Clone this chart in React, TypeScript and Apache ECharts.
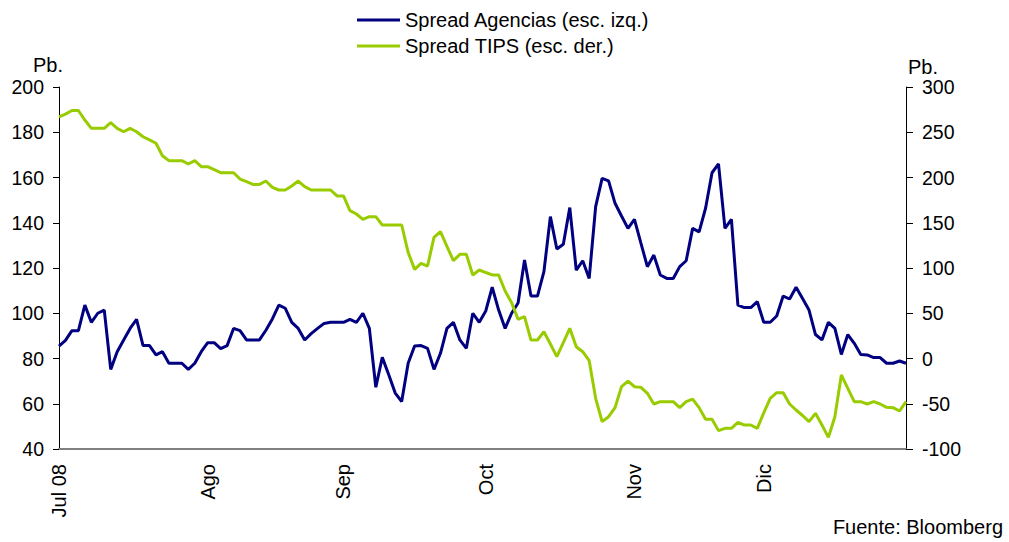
import React, { useEffect, useRef } from "react";
import * as echarts from "echarts";

const monthLabels = ["Jul 08", "Ago", "Sep", "Oct", "Nov", "Dic"];
const monthStarts = [0, 23, 44, 66, 89, 109];
const dayCount = 132;

const agencias = [
  85.5, 88, 92.3, 92.3, 103.6, 96, 100, 101.4, 75.2, 83,
  88.2, 93.3, 97.3, 85.7, 85.7, 81.6, 83, 77.9, 77.9, 77.9,
  75.2, 77.9, 83, 87, 87, 84.4, 85.7, 93.3, 92.3, 88.2,
  88.2, 88.2, 92.5, 97.5, 103.6, 102.2, 96, 93.3, 88.2, 91,
  93.3, 95.5, 96, 96, 96, 97.3, 96, 100, 93.3, 67.3,
  80.5, 72.8, 64.7, 61, 77.9, 85.5, 85.7, 84.5, 75.2, 82.3,
  93.3, 96, 88.2, 84.5, 100, 96, 101, 111.5, 101.4, 93.3,
  100, 104.5, 123.5, 107.6, 107.6, 118.4, 142.7, 128.4, 130.5, 146.7,
  119.1, 123.2, 115.4, 147.1, 159.6, 158.5, 148.6, 143, 137.5, 141.5,
  131, 120.6, 125.7, 116.9, 115.4, 115.4, 120.6, 123.2, 137.5, 136,
  146.4, 162.1, 166, 137.5, 141.5, 103.6, 102.5, 102.5, 105.1, 96,
  96, 98.8, 107.6, 106.3, 111.5, 106.5, 101.4, 90.6, 88.2, 96,
  93.3, 81.8, 90.6, 86.7, 81.8, 81.6, 80.4, 80.4, 77.9, 77.9,
  78.9, 77.9,
];

const tips = [
  267, 270, 274, 274, 263.5, 254.3, 254.3, 254.3, 260.6, 254.3,
  250.6, 254.3, 250.6, 245, 241.5, 237.8, 224, 218.6, 218.6, 218.6,
  214.9, 218.6, 212, 212, 208.6, 205.3, 205.3, 205.3, 198.3, 195.4,
  192.4, 192.4, 196.1, 189.1, 186.2, 186.2, 190.6, 196.1, 189.9, 186.2,
  186.2, 186.2, 186.2, 179.6, 179.6, 163.4, 159.7, 153.8, 156.7, 156.7,
  147.5, 147.5, 147.5, 147.5, 117.3, 98.5, 105.2, 102.2, 133.9, 140.1,
  124, 108.1, 115.1, 115.1, 92.3, 97.8, 95, 92.3, 92.3, 74.6,
  61.7, 43.3, 46.2, 20.4, 20.4, 29.6, 16, 2, 17.5, 33.3,
  13, 7.5, -2.4, -44, -69.8, -64.3, -54.3, -31.1, -24.9, -31.1,
  -31.9, -38.5, -50.3, -47.7, -47.7, -47.7, -54.3, -47.7, -44.8, -54.3,
  -67.2, -67.2, -79.7, -77.2, -77.2, -70.5, -73.5, -73.5, -77.2, -60,
  -44, -37.8, -37.8, -50.3, -56.9, -63, -69.8, -60.6, -73.5, -87.1,
  -64.3, -18.2, -33, -47.7, -47.7, -50.3, -47.7, -50.3, -54, -54.3,
  -58, -47.7,
];

const leftTicks = { min: 40, max: 200, interval: 20 };
const rightTicks = { min: -100, max: 300, interval: 50 };

const seriesNames = ["Spread Agencias (esc. izq.)", "Spread TIPS (esc. der.)"];

const FONT = "Liberation Sans, Arial, sans-serif";

export default function App() {
  const ref = useRef<HTMLDivElement>(null);

  useEffect(() => {
    if (!ref.current) return;
    const chart = echarts.init(ref.current, null, { renderer: "svg" });
    const categories = Array.from({ length: dayCount }, (_, i) => "d" + i);
    const labelAt: Record<number, string> = {};
    monthStarts.forEach((s, k) => (labelAt[s] = monthLabels[k]));

    chart.setOption({
      animation: false,
      backgroundColor: "#ffffff",
      textStyle: { fontFamily: FONT, color: "#000" },
      legend: {
        orient: "vertical",
        left: 357,
        top: 10,
        padding: 0,
        itemWidth: 43,
        itemHeight: 3,
        itemGap: 6,
        icon: "rect",
        textStyle: { fontSize: 20, lineHeight: 20, color: "#000", fontFamily: FONT },
        data: seriesNames,
      },
      grid: { left: 59, right: 103, top: 87, bottom: 93, containLabel: false },
      xAxis: {
        type: "category",
        data: categories,
        boundaryGap: false,
        axisLine: { onZero: false, lineStyle: { color: "#808080", width: 2 } },
        axisTick: { show: false },
        splitLine: { show: false },
        axisLabel: {
          rotate: 90,
          interval: 0,
          margin: 15,
          fontSize: 20,
          color: "#000",
          fontFamily: FONT,
          formatter: (_v: string, idx: number) => labelAt[idx] ?? "",
        },
      },
      yAxis: [
        {
          type: "value",
          min: leftTicks.min,
          max: leftTicks.max,
          interval: leftTicks.interval,
          position: "left",
          axisLine: { show: true, lineStyle: { color: "#000", width: 1 } },
          axisTick: { show: true, length: 6, lineStyle: { color: "#000" } },
          splitLine: { show: false },
          axisLabel: { fontSize: 19.5, margin: 15, color: "#000", fontFamily: FONT },
        },
        {
          type: "value",
          min: rightTicks.min,
          max: rightTicks.max,
          interval: rightTicks.interval,
          position: "right",
          axisLine: { show: true, lineStyle: { color: "#000", width: 1 } },
          axisTick: { show: true, length: 7, lineStyle: { color: "#000" } },
          splitLine: { show: false },
          axisLabel: { fontSize: 19.5, margin: 16, color: "#000", fontFamily: FONT },
        },
      ],
      graphic: [
        {
          type: "text",
          left: 33,
          top: 55,
          style: { text: "Pb.", fontSize: 20, fill: "#000", fontFamily: FONT },
        },
        {
          type: "text",
          left: 908,
          top: 57,
          style: { text: "Pb.", fontSize: 20, fill: "#000", fontFamily: FONT },
        },
        {
          type: "text",
          right: 6,
          top: 517,
          style: { text: "Fuente: Bloomberg", fontSize: 20, fill: "#000", fontFamily: FONT },
        },
      ],
      series: [
        {
          name: seriesNames[0],
          type: "line",
          data: agencias,
          yAxisIndex: 0,
          showSymbol: false,
          symbol: "none",
          lineStyle: { color: "#000080", width: 3 },
          itemStyle: { color: "#000080" },
        },
        {
          name: seriesNames[1],
          type: "line",
          data: tips,
          yAxisIndex: 1,
          showSymbol: false,
          symbol: "none",
          lineStyle: { color: "#99CC00", width: 3 },
          itemStyle: { color: "#99CC00" },
        },
      ],
    });
    return () => chart.dispose();
  }, []);

  return (
    <div
      ref={ref}
      style={{ position: "fixed", left: 0, top: 0, width: 1009, height: 542 }}
    />
  );
}
